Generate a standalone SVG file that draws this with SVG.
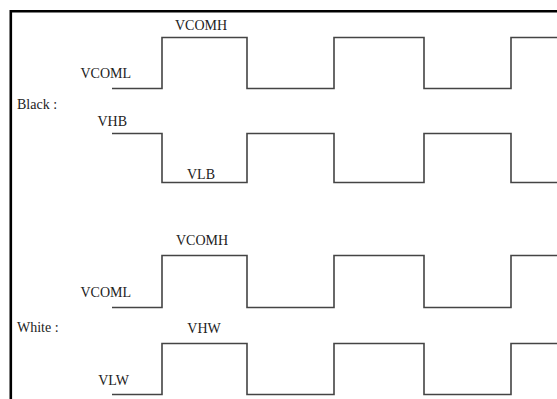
<svg xmlns="http://www.w3.org/2000/svg" width="557" height="399" viewBox="0 0 557 399">
<style>
.t{font-family:"Liberation Serif","Times New Roman",serif;font-size:14px;fill:#222}
.w{fill:none;stroke:#444;stroke-width:1.6}
</style>
<rect width="557" height="399" fill="#fff"/>
<path d="M10.8 400 V11.2 H560" fill="none" stroke="#000" stroke-width="2.6"/>
<g id="black-vcom">
<path class="w" d="M112 88.5 H162 V37.5 H247 V88.5 H334 V37.5 H424 V88.5 H511 V37.5 H560"/>
<text class="t" x="201" y="30" text-anchor="middle">VCOMH</text>
<text class="t" x="131" y="78" text-anchor="end">VCOML</text>
</g>
<g id="black-label"><text class="t" x="17" y="109">Black :</text></g>
<g id="black-seg">
<path class="w" d="M112 133.5 H162 V182.5 H247 V133.5 H334 V182.5 H424 V133.5 H511 V182.5 H560"/>
<text class="t" x="127" y="126" text-anchor="end">VHB</text>
<text class="t" x="201" y="179" text-anchor="middle">VLB</text>
</g>
<g id="white-vcom">
<path class="w" d="M112 307.5 H162 V255.5 H247 V307.5 H334 V255.5 H424 V307.5 H511 V255.5 H560"/>
<text class="t" x="202" y="245" text-anchor="middle">VCOMH</text>
<text class="t" x="131" y="297" text-anchor="end">VCOML</text>
</g>
<g id="white-label"><text class="t" x="17" y="332">White :</text></g>
<g id="white-seg">
<path class="w" d="M112 394.5 H162 V343.5 H247 V394.5 H334 V343.5 H424 V394.5 H511 V343.5 H560"/>
<text class="t" x="204" y="333" text-anchor="middle">VHW</text>
<text class="t" x="129" y="385" text-anchor="end">VLW</text>
</g>
</svg>
